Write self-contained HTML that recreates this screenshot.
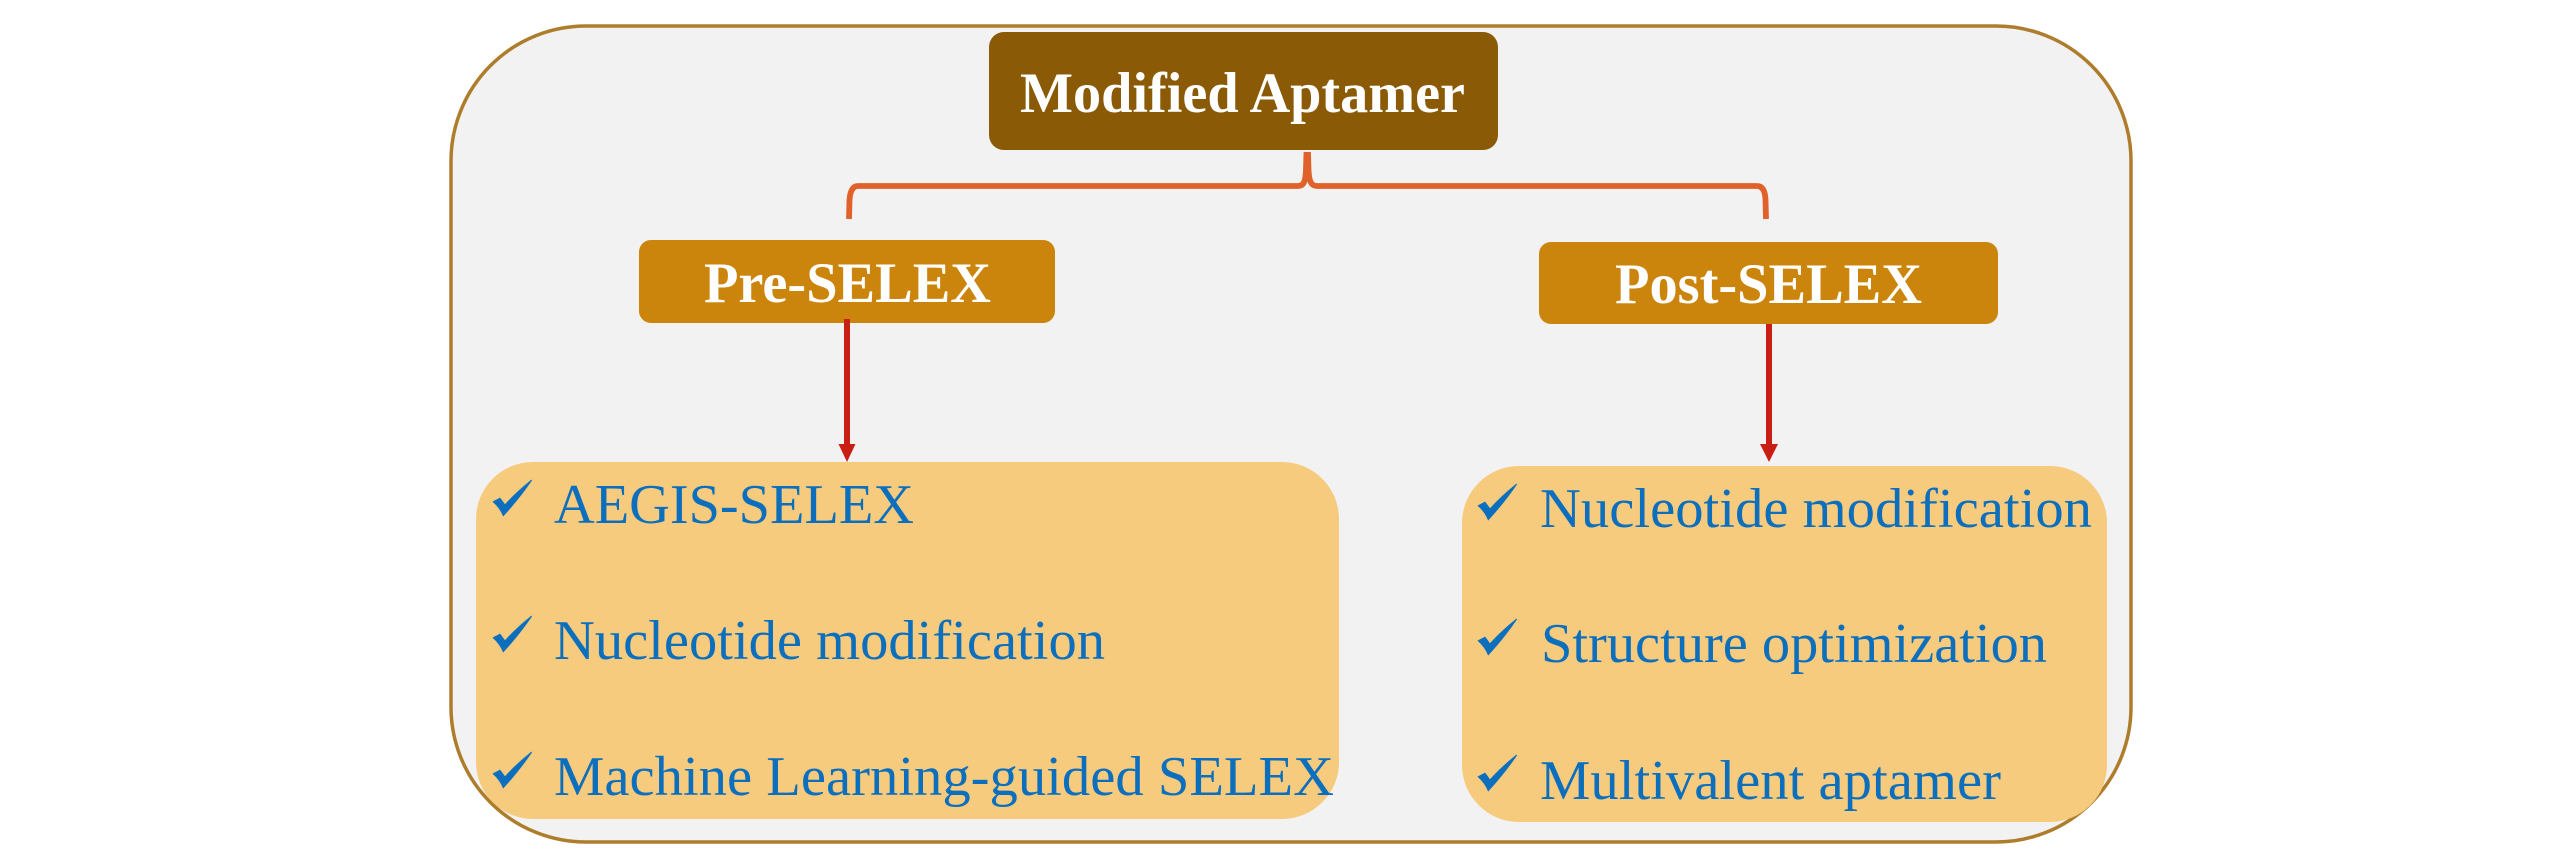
<!DOCTYPE html>
<html>
<head>
<meta charset="utf-8">
<title>Modified Aptamer</title>
<style>
html,body{margin:0;padding:0;background:#fff;width:2567px;height:866px;overflow:hidden}
svg{display:block}
text{font-family:"Liberation Serif",serif}
.h{font-weight:bold;fill:#fff;font-size:57px}
.t{fill:#0b6fbe;font-size:56px}
</style>
</head>
<body>
<svg width="2567" height="866" viewBox="0 0 2567 866" xmlns="http://www.w3.org/2000/svg">
<defs><path id="c" d="M0.3 21.7 L7 18.3 L12 25 C20 16 30 7 38.7 0 C30 13 20 25 10.3 35.7 C8 30 4 25 0.3 21.7Z" fill="#0b6fbe" stroke="#0b6fbe" stroke-width="1"/></defs>
<rect x="451" y="26" width="1680" height="816" rx="135" ry="135" fill="#f2f2f2" stroke="#ae7d2c" stroke-width="3.5"/>
<rect x="476" y="462" width="863" height="357" rx="57" fill="#f7cb7d"/>
<rect x="1462" y="466" width="645" height="356" rx="57" fill="#f7cb7d"/>
<rect x="989" y="32" width="509" height="118" rx="15" fill="#8a5a07"/>
<rect x="639" y="240" width="416" height="83" rx="12" fill="#cb850c"/>
<rect x="1539" y="242" width="459" height="82" rx="12" fill="#cb850c"/>
<path d="M849 219 L849.5 200 Q850.5 186 858 186 L1298 186 C1304 186 1305.5 181 1306 170 L1306.5 152 M1308 152 L1308.5 170 C1309 181 1311 186 1317 186 L1757 186 Q1765 186 1765.5 200 L1766 219" fill="none" stroke="#e0622a" stroke-width="5.8"/>
<path d="M847 319 V446" stroke="#c81e14" stroke-width="6" fill="none"/>
<path d="M838.5 444 H855.5 L847 462Z" fill="#c81e14"/>
<path d="M1769 324 V446" stroke="#c81e14" stroke-width="6" fill="none"/>
<path d="M1760 444 H1778 L1769 462Z" fill="#c81e14"/>
<text class="h" x="1020" y="112" textLength="445" lengthAdjust="spacingAndGlyphs">Modified Aptamer</text>
<text class="h" x="704" y="302" textLength="287" lengthAdjust="spacingAndGlyphs">Pre-SELEX</text>
<text class="h" x="1615" y="303" textLength="307" lengthAdjust="spacingAndGlyphs">Post-SELEX</text>
<use href="#c" x="493" y="480"/>
<use href="#c" x="493" y="616"/>
<use href="#c" x="493" y="752"/>
<use href="#c" x="1478" y="484"/>
<use href="#c" x="1478" y="619"/>
<use href="#c" x="1478" y="755"/>
<text class="t" x="554" y="523" textLength="360" lengthAdjust="spacingAndGlyphs">AEGIS-SELEX</text>
<text class="t" x="554" y="659" textLength="551" lengthAdjust="spacingAndGlyphs">Nucleotide modification</text>
<text class="t" x="554" y="795" textLength="780" lengthAdjust="spacingAndGlyphs">Machine Learning-guided SELEX</text>
<text class="t" x="1540" y="527" textLength="552" lengthAdjust="spacingAndGlyphs">Nucleotide modification</text>
<text class="t" x="1541" y="662" textLength="506" lengthAdjust="spacingAndGlyphs">Structure optimization</text>
<text class="t" x="1540" y="799" textLength="461" lengthAdjust="spacingAndGlyphs">Multivalent aptamer</text>
</svg>
</body>
</html>
